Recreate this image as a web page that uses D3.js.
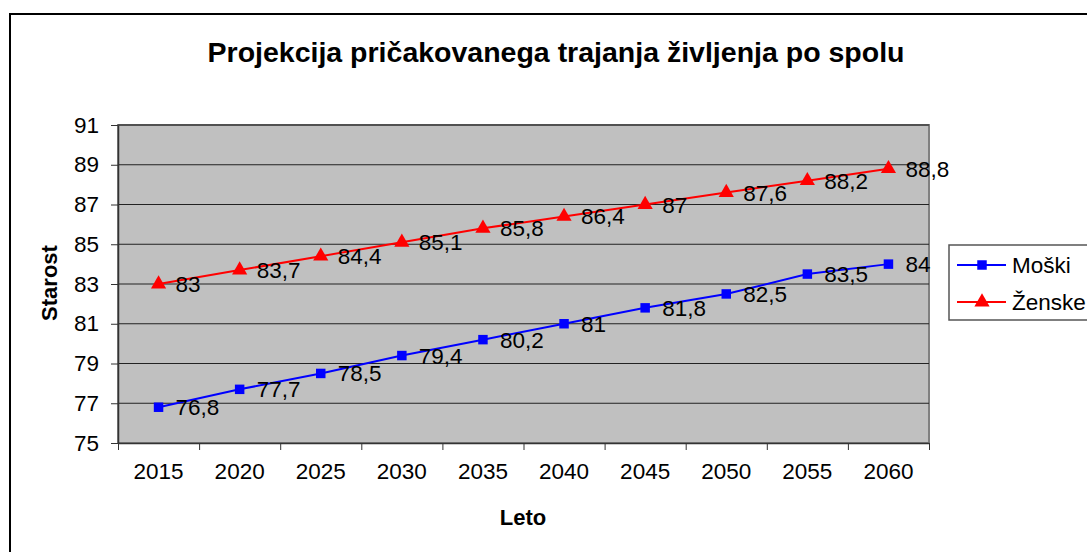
<!DOCTYPE html>
<html>
<head>
<meta charset="utf-8">
<script src="https://cdn.jsdelivr.net/npm/d3@7"></script>
<style>
  body { margin: 0; background: #fff; }
  text { font-family: "Liberation Sans", Arial, sans-serif; }
</style>
</head>
<body>
<div id="chart"></div>
<script>
// data
var years = ["2015", "2020", "2025", "2030", "2035", "2040", "2045", "2050", "2055", "2060"];
var moski = [76.8, 77.7, 78.5, 79.4, 80.2, 81, 81.8, 82.5, 83.5, 84];
var zenske = [83, 83.7, 84.4, 85.1, 85.8, 86.4, 87, 87.6, 88.2, 88.8];
var yTicks = [75, 77, 79, 81, 83, 85, 87, 89, 91];
var seriesNames = ["Moški", "Ženske"];

var W = 1087, H = 552;
var margin = {top: 125, left: 118},
    width = 929 - 118,
    height = 443 - 125;

var svg = d3.select("#chart")
  .append("svg")
    .attr("width", W)
    .attr("height", H);

// outer chart frame
svg.append("rect")
  .attr("x", 10).attr("y", 14)
  .attr("width", 1100).attr("height", 560)
  .attr("fill", "none")
  .attr("stroke", "#000")
  .attr("stroke-width", 2);

// title
svg.append("text")
  .attr("x", 556).attr("y", 62)
  .attr("text-anchor", "middle")
  .attr("font-size", "28.5px")
  .attr("font-weight", "bold")
  .text("Projekcija pričakovanega trajanja življenja po spolu");

var g = svg.append("g")
  .attr("transform", "translate(" + margin.left + "," + margin.top + ")");

var x = d3.scaleBand()
  .domain(years)
  .range([0, width]);

var xEdge = d3.scaleLinear()
  .domain([0, years.length])
  .range([0, width]);

var y = d3.scaleLinear()
  .domain([75, 91])
  .range([height, 0]);

// plot background
g.append("rect")
  .attr("width", width).attr("height", height)
  .attr("fill", "#c0c0c0")
  .attr("stroke", "#808080")
  .attr("stroke-width", 2);

// gridlines
g.append("g")
  .selectAll("line")
  .data(yTicks.slice(1))
  .enter()
  .append("line")
    .attr("x1", 0).attr("x2", width)
    .attr("y1", d => y(d)).attr("y2", d => y(d))
    .attr("stroke", "#222")
    .attr("stroke-width", 1);

// y axis
var yAxis = g.append("g")
  .call(d3.axisLeft(y).tickValues(yTicks).tickSize(7).tickPadding(12).tickSizeOuter(0));
yAxis.select(".domain").attr("stroke", "#333").attr("stroke-width", 1.5);
yAxis.selectAll(".tick line").attr("stroke", "#333");
yAxis.selectAll("text").attr("font-size", "22.5px").attr("fill", "#000")
  .attr("font-family", "Liberation Sans, Arial, sans-serif");

// x axis: labels centred in bands, ticks on band edges
var xTickG = g.append("g")
  .attr("transform", "translate(0," + height + ")")
  .call(d3.axisBottom(xEdge).tickValues(d3.range(years.length + 1)).tickSize(7).tickFormat("").tickSizeOuter(0));
xTickG.select(".domain").attr("stroke", "#333").attr("stroke-width", 1.5);
xTickG.selectAll(".tick line").attr("stroke", "#333");

var xLab = g.append("g")
  .attr("transform", "translate(0," + height + ")")
  .call(d3.axisBottom(x).tickSize(0).tickPadding(20));
xLab.select(".domain").remove();
xLab.selectAll("text").attr("font-size", "22.5px").attr("fill", "#000")
  .attr("font-family", "Liberation Sans, Arial, sans-serif");

var cx = d => x(d) + x.bandwidth() / 2;

var line = d3.line()
  .x(d => cx(d.year))
  .y(d => y(d.v));

var series = [
  {name: seriesNames[0], values: moski, color: "#0000ff", shape: d3.symbolSquare, size: 90},
  {name: seriesNames[1], values: zenske, color: "#ff0000", shape: d3.symbolTriangle, size: 100}
];

series.forEach(s => {
  var pts = years.map((yr, i) => ({year: yr, v: s.values[i]}));

  g.append("path")
    .datum(pts)
    .attr("fill", "none")
    .attr("stroke", s.color)
    .attr("stroke-width", 2)
    .attr("d", line);

  g.append("g")
    .selectAll("path")
    .data(pts)
    .enter()
    .append("path")
      .attr("d", d3.symbol().type(s.shape).size(s.size))
      .attr("transform", d => "translate(" + cx(d.year) + "," + y(d.v) + ")")
      .attr("fill", s.color);

  g.append("g")
    .selectAll("text")
    .data(pts)
    .enter()
    .append("text")
      .attr("x", d => cx(d.year) + 17)
      .attr("y", d => y(d.v) + 8)
      .attr("font-size", "22.5px")
      .text(d => String(d.v).replace(".", ","));
});

// axis titles
svg.append("text")
  .attr("x", 523).attr("y", 525)
  .attr("text-anchor", "middle")
  .attr("font-size", "22px")
  .attr("font-weight", "bold")
  .text("Leto");

svg.append("text")
  .attr("transform", "translate(57,283) rotate(-90)")
  .attr("text-anchor", "middle")
  .attr("font-size", "22px")
  .attr("font-weight", "bold")
  .text("Starost");

// legend
var leg = svg.append("g");
leg.append("rect")
  .attr("x", 949).attr("y", 245)
  .attr("width", 160).attr("height", 75)
  .attr("fill", "#fff")
  .attr("stroke", "#555")
  .attr("stroke-width", 1.5);

series.forEach((s, i) => {
  var ly = 265 + i * 37;
  leg.append("line")
    .attr("x1", 957).attr("x2", 1006)
    .attr("y1", ly).attr("y2", ly)
    .attr("stroke", s.color).attr("stroke-width", 2);
  leg.append("path")
    .attr("d", d3.symbol().type(s.shape).size(s.size))
    .attr("transform", "translate(982," + ly + ")")
    .attr("fill", s.color);
  leg.append("text")
    .attr("x", 1012).attr("y", ly + 8)
    .attr("font-size", "22.5px")
    .text(s.name);
});
</script>
</body>
</html>
